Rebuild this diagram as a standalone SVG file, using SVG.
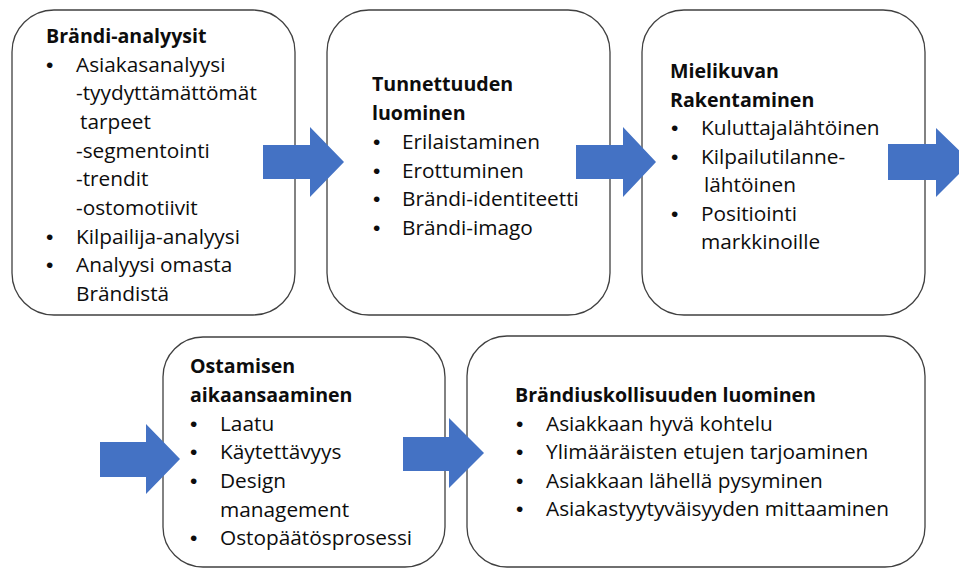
<svg xmlns="http://www.w3.org/2000/svg" width="959" height="569" viewBox="0 0 959 569">
<style>
.box{fill:#fff;stroke:#404040;stroke-width:1.3}
.arr{fill:#4472C4}
text{font-family:"Open Sans","Liberation Sans",sans-serif;font-size:20.8px;fill:#0d0d0d}
.b{font-weight:bold;font-size:19.6px}
.u{font-family:"Liberation Sans",sans-serif;font-size:21px}
</style>
<rect width="959" height="569" fill="#fff"/>
<g id="n1">
<rect class="box" x="12" y="10" width="283" height="305" rx="42" ry="42"/>
<text class="b" x="46" y="43">Brändi-analyysit</text>
<text class="u" x="46" y="72">•</text><text x="76" y="72">Asiakasanalyysi</text>
<text x="76" y="100">-tyydyttämättömät</text>
<text x="80" y="129">tarpeet</text>
<text x="76" y="158">-segmentointi</text>
<text x="76" y="186">-trendit</text>
<text x="76" y="215">-ostomotiivit</text>
<text class="u" x="46" y="244">•</text><text x="76" y="244">Kilpailija-analyysi</text>
<text class="u" x="46" y="272">•</text><text x="76" y="272">Analyysi omasta</text>
<text x="76" y="301">Brändistä</text>
</g>
<g id="n2">
<rect class="box" x="327" y="10" width="283" height="305" rx="42" ry="42"/>
<text class="b" x="372" y="91">Tunnettuuden</text>
<text class="b" x="372" y="120">luominen</text>
<text class="u" x="373" y="149">•</text><text x="402" y="149">Erilaistaminen</text>
<text class="u" x="373" y="178">•</text><text x="402" y="178">Erottuminen</text>
<text class="u" x="373" y="206">•</text><text x="402" y="206">Brändi-identiteetti</text>
<text class="u" x="373" y="235">•</text><text x="402" y="235">Brändi-imago</text>
</g>
<g id="n3">
<rect class="box" x="642" y="10" width="283" height="305" rx="42" ry="42"/>
<text class="b" x="670" y="78">Mielikuvan</text>
<text class="b" x="670" y="107">Rakentaminen</text>
<text class="u" x="671" y="135">•</text><text x="701" y="135">Kuluttajalähtöinen</text>
<text class="u" x="671" y="164">•</text><text x="701" y="164">Kilpailutilanne-</text>
<text x="704" y="192">lähtöinen</text>
<text class="u" x="671" y="221">•</text><text x="701" y="221">Positiointi</text>
<text x="701" y="249">markkinoille</text>
</g>
<g id="n4">
<rect class="box" x="163" y="337" width="282" height="230" rx="40" ry="40"/>
<text class="b" x="190" y="373">Ostamisen</text>
<text class="b" x="190" y="402">aikaansaaminen</text>
<text class="u" x="190" y="431">•</text><text x="220" y="431">Laatu</text>
<text class="u" x="190" y="459">•</text><text x="220" y="459">Käytettävyys</text>
<text class="u" x="190" y="488">•</text><text x="220" y="488">Design</text>
<text x="220" y="517">management</text>
<text class="u" x="190" y="545">•</text><text x="220" y="545">Ostopäätösprosessi</text>
</g>
<g id="n5">
<rect class="box" x="467" y="336" width="458" height="231" rx="40" ry="40"/>
<text class="b" x="515" y="402">Brändiuskollisuuden luominen</text>
<text class="u" x="516" y="431">•</text><text x="546" y="431">Asiakkaan hyvä kohtelu</text>
<text class="u" x="516" y="459">•</text><text x="546" y="459">Ylimääräisten etujen tarjoaminen</text>
<text class="u" x="516" y="488">•</text><text x="546" y="488">Asiakkaan lähellä pysyminen</text>
<text class="u" x="516" y="516">•</text><text x="546" y="516">Asiakastyytyväisyyden mittaaminen</text>
</g>
<g id="connectors">
<polygon class="arr" points="263,145 310,145 310,127 344,162 310,197 310,179 263,179"/>
<polygon class="arr" points="576,145 623,145 623,127 656,162 623,197 623,179 576,179"/>
<polygon class="arr" points="888,144 936,144 936,128 971,162 936,197 936,180 888,180"/>
<polygon class="arr" points="100,442 146,442 146,424 180,459 146,494 146,477 100,477"/>
<polygon class="arr" points="403,437 449,437 449,418 484,453 449,488 449,471 403,471"/>
</g>
</svg>
